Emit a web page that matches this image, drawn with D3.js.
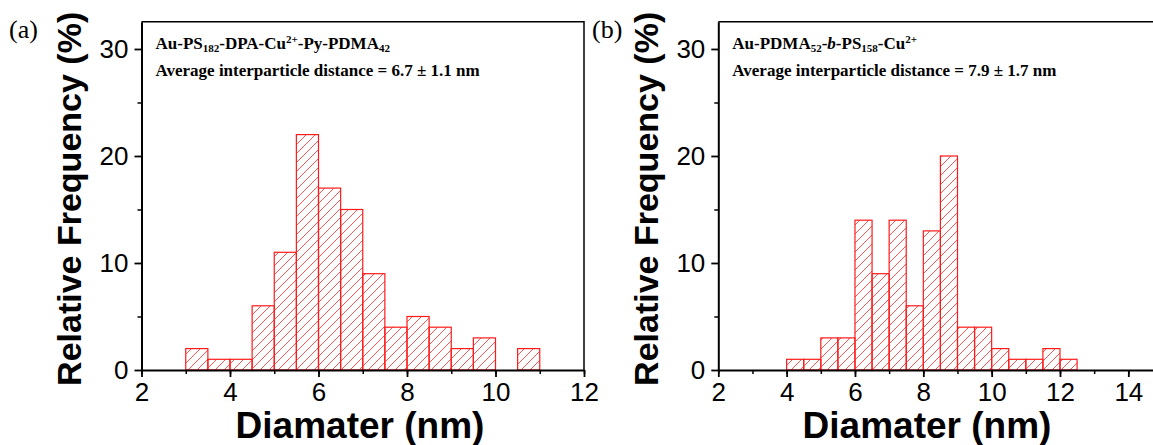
<!DOCTYPE html>
<html>
<head>
<meta charset="utf-8">
<script src="https://cdn.jsdelivr.net/npm/d3@7"></script>
<style>
  body { margin: 0; background: #fff; }
  svg { display: block; }
</style>
</head>
<body>
<script>
// Width and height
var w = 1153;
var h = 445;

// Histogram data: left edge of each 0.5 nm bin and its relative frequency (%)
var binWidth = 0.5;
var binsA = [3, 3.5, 4, 4.5, 5, 5.5, 6, 6.5, 7, 7.5, 8, 8.5, 9, 9.5, 10, 10.5];
var freqA = [2, 1, 1, 6, 11, 22, 17, 15, 9, 4, 5, 4, 2, 3, 0, 2];

var binsB = [4, 4.5, 5, 5.5, 6, 6.5, 7, 7.5, 8, 8.5, 9, 9.5, 10, 10.5, 11, 11.5, 12];
var freqB = [1, 1, 3, 3, 14, 9, 14, 6, 13, 20, 4, 4, 2, 1, 1, 2, 1];

// Tick labels
var yTicks = [0, 10, 20, 30];
var xTicksA = [2, 4, 6, 8, 10, 12];
var xTicksB = [2, 4, 6, 8, 10, 12, 14];

var svg = d3.select("body")
            .append("svg")
            .attr("width", w)
            .attr("height", h);

// diagonal hatch used to fill the bars
var defs = svg.append("defs");
var hatch = defs.append("pattern")
    .attr("id", "hatch")
    .attr("patternUnits", "userSpaceOnUse")
    .attr("width", 9)
    .attr("height", 9);
hatch.append("path")
    .attr("d", "M-1,1 L1,-1 M0,9 L9,0 M8,10 L10,8")
    .attr("stroke", "#ff5555")
    .attr("stroke-width", 1);

var sans = "'Liberation Sans', Arial, sans-serif";
var serif = "'Liberation Serif', 'Times New Roman', serif";

function drawPanel(p) {
    var x = d3.scaleLinear().domain(p.xDomain).range([p.left, p.right]);
    var y = d3.scaleLinear().domain([0, 32.55]).range([370, 21.7]);

    var g = svg.append("g");

    // bars
    g.selectAll("rect.bar")
     .data(p.bins.map(function(b, i) { return { x0: b, x1: b + binWidth, v: p.freq[i] }; })
                 .filter(function(d) { return d.v > 0; }))
     .enter()
     .append("rect")
     .attr("class", "bar")
     .attr("x", function(d) { return x(d.x0); })
     .attr("y", function(d) { return y(d.v); })
     .attr("width", function(d) { return x(d.x1) - x(d.x0); })
     .attr("height", function(d) { return y(0) - y(d.v); })
     .attr("fill", "url(#hatch)")
     .attr("stroke", "#ff1a1a")
     .attr("stroke-width", 1.2);

    // frame (top and right)
    g.append("path")
     .attr("d", "M" + p.left + "," + y.range()[1] + "H" + p.right + "V" + y(0))
     .attr("fill", "none")
     .attr("stroke", "#000")
     .attr("stroke-width", 1.5);

    // x axis: minor ticks first, then labelled major ticks
    var minorX = d3.range(p.xDomain[0], p.xDomain[1] + 0.01, 1);
    g.append("g")
     .attr("transform", "translate(0," + y(0) + ")")
     .call(d3.axisBottom(x).tickValues(minorX).tickSize(4).tickFormat(""))
     .call(function(a) { a.select(".domain").remove(); a.selectAll("line").attr("stroke-width", 1.5); });
    var xa = g.append("g")
     .attr("transform", "translate(0," + y(0) + ")")
     .call(d3.axisBottom(x).tickValues(p.xTicks).tickSize(7).tickSizeOuter(0).tickPadding(6).tickFormat(d3.format("d")));
    xa.select(".domain").attr("stroke-width", 2);
    xa.selectAll("line").attr("stroke-width", 1.8);
    xa.selectAll("text").attr("font-family", sans).attr("font-size", 26).attr("fill", "#000");

    // y axis
    g.append("g")
     .attr("transform", "translate(" + p.left + ",0)")
     .call(d3.axisLeft(y).tickValues([5, 15, 25]).tickSize(4).tickFormat(""))
     .call(function(a) { a.select(".domain").remove(); a.selectAll("line").attr("stroke-width", 1.5); });
    var ya = g.append("g")
     .attr("transform", "translate(" + p.left + ",0)")
     .call(d3.axisLeft(y).tickValues(yTicks).tickSize(7).tickSizeOuter(0).tickPadding(6).tickFormat(d3.format("d")));
    ya.select(".domain").attr("stroke-width", 2);
    ya.selectAll("line").attr("stroke-width", 1.8);
    ya.selectAll("text").attr("font-family", sans).attr("font-size", 26).attr("fill", "#000");

    // axis titles
    g.append("text")
     .attr("x", p.xTitleX)
     .attr("y", 438)
     .attr("text-anchor", "middle")
     .attr("font-family", sans)
     .attr("font-weight", "bold")
     .attr("font-size", 37)
     .text("Diamater (nm)");

    g.append("text")
     .attr("transform", "translate(" + (p.left - 60.5) + "," + ((y(0) + y.range()[1]) / 2 + 3) + ") rotate(-90)")
     .attr("text-anchor", "middle")
     .attr("font-family", sans)
     .attr("font-weight", "bold")
     .attr("font-size", 34)
     .text("Relative Frequency (%)");

    // panel letter
    g.append("text")
     .attr("x", p.letterX)
     .attr("y", 38)
     .attr("font-family", serif)
     .attr("font-size", 26)
     .text(p.letter);

    // annotation: first line has sub/superscripts
    var t1 = g.append("text")
     .attr("x", p.left + 14)
     .attr("y", 49)
     .attr("font-family", serif)
     .attr("font-weight", "bold")
     .attr("font-size", 17);
    p.label.forEach(function(s) {
        var ts = t1.append("tspan").text(s.t);
        if (s.sub) ts.attr("font-size", 11).attr("baseline-shift", "-3");
        if (s.sup) ts.attr("font-size", 11).attr("baseline-shift", "6");
        if (s.it) ts.attr("font-style", "italic");
    });

    g.append("text")
     .attr("x", p.left + 14)
     .attr("y", 76)
     .attr("font-family", serif)
     .attr("font-weight", "bold")
     .attr("font-size", 17)
     .text(p.label2);
}

drawPanel({
    bins: binsA, freq: freqA, xTicks: xTicksA,
    xDomain: [2, 12], left: 141.5, right: 584,
    xTitleX: 360, letter: "(a)", letterX: 9,
    label: [{t: "Au-PS"}, {t: "182", sub: true}, {t: "-DPA-Cu"}, {t: "2+", sup: true},
            {t: "-Py-PDMA"}, {t: "42", sub: true}],
    label2: "Average interparticle distance = 6.7 \u00b1 1.1 nm"
});

drawPanel({
    bins: binsB, freq: freqB, xTicks: xTicksB,
    xDomain: [2, 15], left: 718.3, right: 1162.5,
    xTitleX: 927, letter: "(b)", letterX: 592,
    label: [{t: "Au-PDMA"}, {t: "52", sub: true}, {t: "-"}, {t: "b", it: true}, {t: "-PS"},
            {t: "158", sub: true}, {t: "-Cu"}, {t: "2+", sup: true}],
    label2: "Average interparticle distance = 7.9 \u00b1 1.7 nm"
});
</script>
</body>
</html>
